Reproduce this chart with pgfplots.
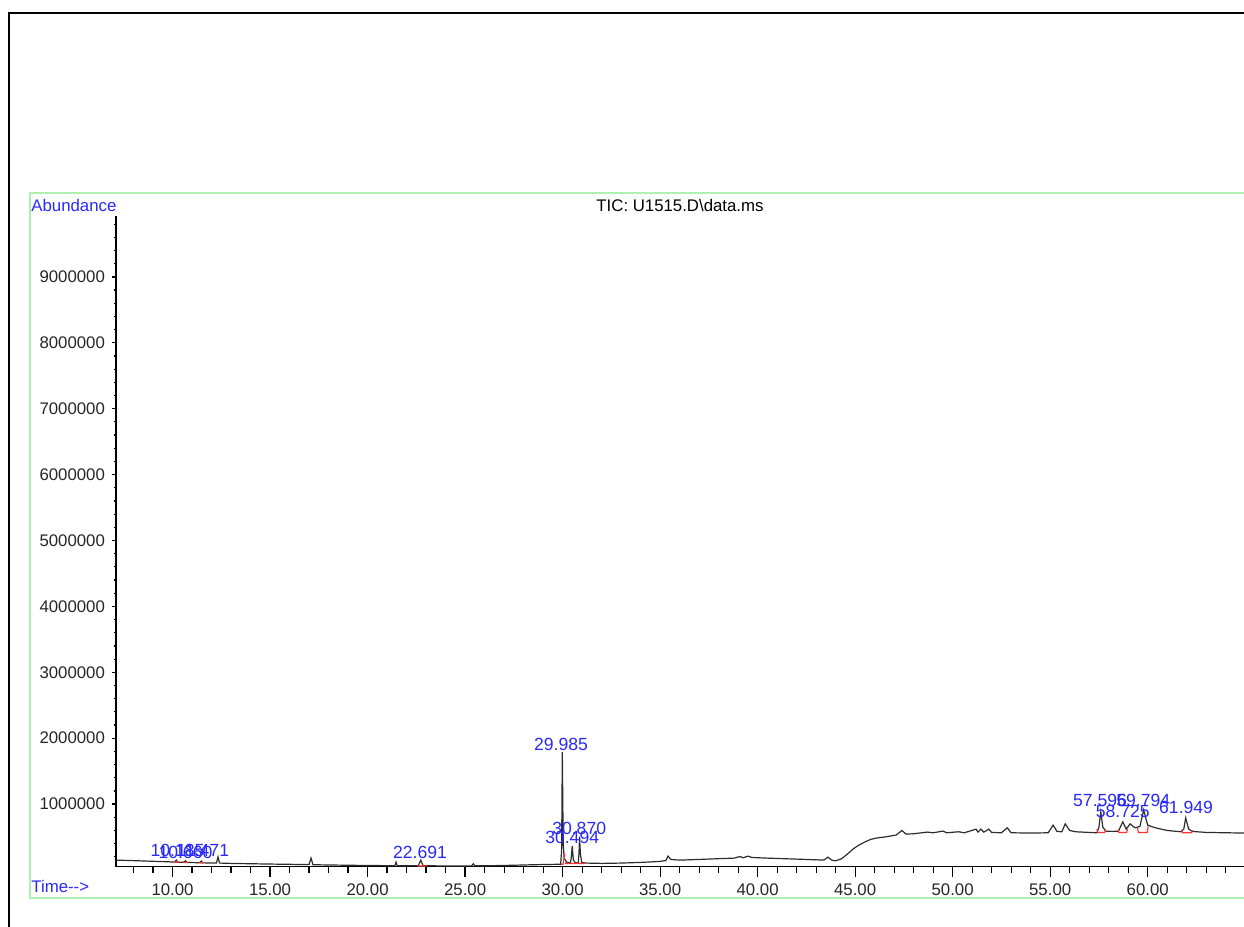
\documentclass[border=0pt]{standalone}
\usepackage{fontspec}
\setmainfont{Liberation Sans}
\usepackage{pgfplots}
\pgfplotsset{compat=1.18}
\definecolor{curvegray}{RGB}{45,45,45}
\definecolor{labelblue}{RGB}{40,40,250}
\definecolor{greenbox}{RGB}{175,240,175}
\definecolor{intred}{RGB}{255,50,50}
\newcommand{\tickfont}{\fontsize{8.4}{10}\selectfont}
\newcommand{\labfont}{\fontsize{8.8}{10}\selectfont}
\begin{document}
\begin{tikzpicture}
\useasboundingbox (0,0) rectangle (622pt,463.5pt);
\begin{axis}[
  at={(58pt,30.15pt)}, anchor=south west,
  scale only axis, width=564.6pt, height=325.2pt,
  xmin=7.1, xmax=65, ymin=50000, ymax=9920000,
  axis x line=bottom, axis y line=left,
  axis line style={-, line width=0.7pt, black},
  xtick={10,15,20,25,30,35,40,45,50,55,60},
  xticklabels={10.00,15.00,20.00,25.00,30.00,35.00,40.00,45.00,50.00,55.00,60.00},
  minor xtick={8,9,11,12,13,14,16,17,18,19,21,22,23,24,26,27,28,29,31,32,33,34,36,37,38,39,41,42,43,44,46,47,48,49,51,52,53,54,56,57,58,59,61,62,63,64},
  ytick=\empty,
  tick align=outside,
  major tick length=5pt, minor tick length=3pt,
  tick style={line width=0.6pt, black},
  xticklabel style={font=\tickfont, text=black!85},
  clip=false,
]
\addplot[curvegray, line width=0.6pt] table {
7.10 150000
8.00 142000
9.00 132000
9.80 124000
10.10 120000
10.19 150000
10.28 118000
10.58 116000
10.66 140000
10.74 114000
11.40 110000
11.47 135000
11.55 108000
12.25 106000
12.33 200000
12.41 105000
13.00 100000
14.00 95000
15.00 90000
16.00 86000
17.00 82000
17.10 180000
17.20 80000
18.00 76000
19.00 72000
20.00 68000
21.00 66000
21.40 65000
21.46 120000
21.52 65000
22.60 64000
22.73 150000
22.85 64000
24.00 62000
25.00 62000
25.35 63000
25.42 95000
25.50 64000
26.50 66000
27.50 72000
28.50 80000
29.50 85000
29.90 88000
29.95 300000
29.985 1790000
30.03 400000
30.08 180000
30.20 120000
30.40 105000
30.45 200000
30.494 365000
30.55 150000
30.65 110000
30.80 105000
30.84 250000
30.87 505000
30.91 250000
30.98 115000
31.20 105000
32.00 100000
33.00 105000
34.00 115000
35.00 130000
35.30 145000
35.40 210000
35.55 160000
36.00 150000
37.00 160000
38.00 172000
38.80 180000
39.10 205000
39.25 185000
39.50 210000
39.70 190000
40.50 180000
41.50 170000
42.50 160000
43.40 150000
43.60 195000
43.80 150000
44.00 140000
44.30 170000
44.60 240000
44.90 320000
45.20 380000
45.50 425000
45.80 465000
46.10 485000
46.50 500000
46.80 515000
47.10 530000
47.40 600000
47.60 545000
48.00 550000
48.70 575000
49.00 565000
49.50 590000
49.70 565000
50.30 580000
50.60 565000
51.20 620000
51.30 575000
51.45 620000
51.60 575000
51.85 620000
52.00 570000
52.50 565000
52.80 640000
53.00 565000
54.00 560000
54.90 565000
55.15 680000
55.35 585000
55.60 580000
55.77 700000
56.00 600000
56.30 580000
57.00 570000
57.40 565000
57.50 650000
57.596 880000
57.70 650000
57.85 590000
58.20 585000
58.50 590000
58.725 730000
58.90 620000
59.10 700000
59.35 640000
59.60 660000
59.794 910000
60.00 680000
60.40 640000
61.00 600000
61.70 580000
61.85 620000
61.949 790000
62.10 620000
62.30 585000
63.00 570000
64.00 565000
65.00 560000
};
% integration baselines
\addplot[intred, line width=0.6pt] coordinates {(10.10,135000)(10.12,118000)(10.28,116000)(10.30,130000)};
\addplot[intred, line width=0.6pt] coordinates {(10.56,130000)(10.58,114000)(10.74,112000)(10.76,125000)};
\addplot[intred, line width=0.6pt] coordinates {(11.38,125000)(11.40,108000)(11.55,106000)(11.57,120000)};
\addplot[intred, line width=0.6pt] coordinates {(22.58,80000)(22.60,62000)(23.00,62000)(23.02,78000)};
\addplot[intred, line width=0.6pt] coordinates {(29.93,88000)(30.02,88000)(30.12,250000)};
\addplot[intred, line width=0.6pt] coordinates {(30.12,110000)(30.15,100000)(31.10,100000)(31.13,112000)};
\addplot[intred, line width=0.6pt] coordinates {(57.40,620000)(57.44,568000)(57.80,568000)(57.84,615000)};
\addplot[intred, line width=0.6pt] coordinates {(58.48,615000)(58.52,568000)(58.92,568000)(58.96,620000)};
\addplot[intred, line width=0.6pt] coordinates {(59.48,640000)(59.52,568000)(59.98,568000)(60.02,660000)};
\addplot[intred, line width=0.6pt] coordinates {(61.74,610000)(61.78,565000)(62.25,565000)(62.29,605000)};
% peak labels
\begin{scope}[every node/.style={font=\labfont, text=labelblue, inner sep=0pt, anchor=base}]
\node at (axis cs:10.25,212000) {10.185};
\node at (axis cs:10.66,180000) {10.660};
\node at (axis cs:11.55,212000) {11.471};
\node at (axis cs:22.69,182000) {22.691};
\node at (axis cs:29.92,1820000) {29.985};
\node at (axis cs:30.85,546000) {30.870};
\node at (axis cs:30.49,395000) {30.494};
\node at (axis cs:57.56,956000) {57.596};
\node at (axis cs:58.72,790000) {58.725};
\node at (axis cs:59.77,971000) {59.794};
\node at (axis cs:61.97,850000) {61.949};
\end{scope}
\end{axis}
\begin{axis}[
  at={(58pt,30.15pt)}, anchor=south west,
  scale only axis, width=564.6pt, height=325.2pt,
  xmin=7.1, xmax=65, ymin=50000, ymax=9920000,
  axis x line=none, axis y line=left,
  axis line style={-, line width=0.7pt, black},
  ytick={1000000,2000000,3000000,4000000,5000000,6000000,7000000,8000000,9000000},
  yticklabels={1000000,2000000,3000000,4000000,5000000,6000000,7000000,8000000,9000000},
  minor ytick={200000,400000,600000,800000,1200000,1400000,1600000,1800000,2200000,2400000,2600000,2800000,3200000,3400000,3600000,3800000,4200000,4400000,4600000,4800000,5200000,5400000,5600000,5800000,6200000,6400000,6600000,6800000,7200000,7400000,7600000,7800000,8200000,8400000,8600000,8800000,9200000,9400000,9600000,9800000},
  scaled y ticks=false,
  tick align=outside,
  major tick length=2pt, minor tick length=1.2pt,
  tick style={line width=0.6pt, black},
  yticklabel style={font=\tickfont, text=black!85},
]
\end{axis}
\draw[black, line width=1.2pt] (4.5pt,-10pt) -- (4.5pt,457pt) -- (640pt,457pt);
\draw[greenbox, line width=1pt] (640pt,14.5pt) -- (15pt,14.5pt) -- (15pt,367pt) -- (640pt,367pt);
\node[anchor=base west, inner sep=0pt, text=labelblue, font=\tickfont] at (15.5pt,357.8pt) {Abundance};
\node[anchor=base west, inner sep=0pt, text=labelblue, font=\tickfont] at (15.5pt,17pt) {Time-{}-{}>};
\node[anchor=base, inner sep=0pt, text=black, font=\tickfont] at (340pt,357.8pt) {TIC: U1515.D\textbackslash data.ms};
\end{tikzpicture}
\end{document}
